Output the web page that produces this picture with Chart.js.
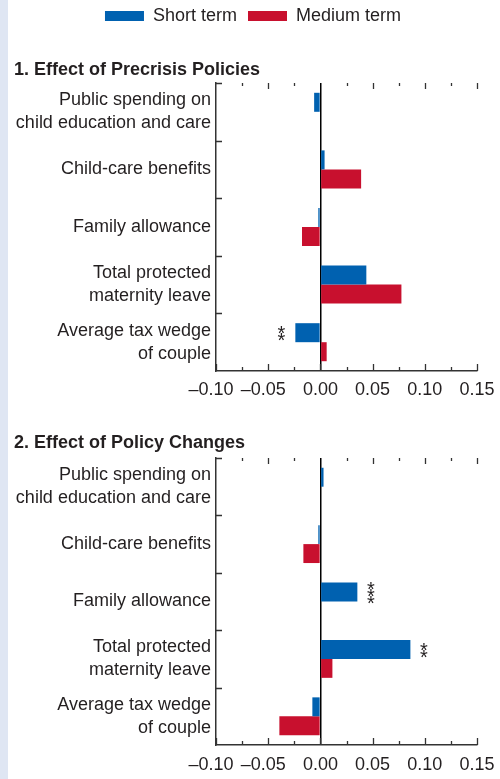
<!DOCTYPE html>
<html>
<head>
<meta charset="utf-8">
<script src="https://cdn.jsdelivr.net/npm/chart.js@4"></script>
<style>
  body { margin: 0; background: #fff; width: 500px; height: 779px; overflow: hidden; position: relative; }
  #strip { position: absolute; left: 0; top: 0; width: 8px; height: 779px; background: #dfe6f3; }
  #c1 { position: absolute; left: 0; top: -4px; }
  #c2 { position: absolute; left: 0; top: 402px; }
</style>
</head>
<body>
<div id="strip"></div>
<canvas id="c1" width="500" height="406"></canvas>
<canvas id="c2" width="500" height="377"></canvas>
<script>
// Data
const categories = [
  ["Public spending on", "child education and care"],
  "Child-care benefits",
  "Family allowance",
  ["Total protected", "maternity leave"],
  ["Average tax wedge", "of couple"]
];
const seriesNames = ["Short term", "Medium term"];

const precrisisShort = [-0.006, 0.004, -0.002, 0.044, -0.024];
const precrisisMedium = [0, 0.039, -0.0176, 0.0776, 0.006];
const precrisisStars = ["", "", "", "", "**"];

const changesShort = [0.003, -0.002, 0.0354, 0.0862, -0.0077];
const changesMedium = [0, -0.0163, 0, 0.0115, -0.0393];
const changesStars = ["", "", "***", "**", ""];

const xMin = -0.10;
const xMax = 0.15;
const xStep = 0.025;

const BLUE = "#0061b0";
const RED = "#c8102e";
const INK = "#231f20";
const AXIS = "#333333";
const FONT = "'Liberation Sans', Arial, sans-serif";

Chart.defaults.font.family = FONT;
Chart.defaults.color = INK;

function isMajor(v) {
  return Math.abs(Math.round(v * 1000)) % 50 === 0;
}

// negative labels keep the number centred on the tick, minus hangs left
function fmt(v) {
  const s = Math.abs(v).toFixed(2);
  return v < -1e-9 ? "\u2013" + s + "\u2007" : s;
}

// tick marks pointing inside the frame, like the original
const inwardTicks = {
  id: "inwardTicks",
  afterDatasetsDraw(chart) {
    const { ctx, chartArea: a, scales: { x, y } } = chart;
    ctx.save();
    ctx.strokeStyle = AXIS;
    ctx.lineWidth = 1.3;
    ctx.beginPath();
    x.ticks.forEach((t) => {
      const px = Math.round(x.getPixelForValue(t.value)) + 0.5;
      const major = isMajor(t.value);
      ctx.moveTo(px, a.bottom);
      ctx.lineTo(px, a.bottom - (major ? 7 : 4));
      if (t.value > xMin + 1e-9 && Math.abs(t.value) > 1e-9) {
        ctx.moveTo(px, a.top);
        ctx.lineTo(px, a.top + (major ? 6 : 3));
      }
    });
    const band = (a.bottom - a.top) / categories.length;
    for (let i = 0; i < categories.length; i++) {
      const py = Math.round(y.getPixelForValue(i) - band / 2) + 0.5;
      ctx.moveTo(a.left, py);
      ctx.lineTo(a.left + 6, py);
    }
    ctx.stroke();
    ctx.restore();
  }
};

// significance stars stacked next to the short-term bars
const starLabels = {
  id: "starLabels",
  afterDatasetsDraw(chart, args, opts) {
    const meta = chart.getDatasetMeta(0);
    const { ctx } = chart;
    ctx.save();
    ctx.fillStyle = INK;
    ctx.font = "20px " + FONT;
    ctx.textAlign = "center";
    ctx.textBaseline = "alphabetic";
    opts.stars.forEach((s, i) => {
      if (!s) return;
      const el = meta.data[i];
      const v = chart.data.datasets[0].data[i];
      const sx = el.x + (v < 0 ? -14 : 13.5);
      const gap = 7.3;
      const first = el.y - (gap * (s.length - 1)) / 2;
      for (let k = 0; k < s.length; k++) {
        ctx.fillText("*", sx, first + k * gap + 11);
      }
    });
    ctx.restore();
  }
};

function makeChart(id, short, medium, stars, title, withLegend, layout) {
  return new Chart(document.getElementById(id), {
    type: "bar",
    data: {
      labels: categories,
      datasets: [
        { label: seriesNames[0], data: short, backgroundColor: BLUE },
        { label: seriesNames[1], data: medium, backgroundColor: RED }
      ]
    },
    options: {
      indexAxis: "y",
      responsive: false,
      animation: false,
      categoryPercentage: 0.66,
      barPercentage: 1,
      layout: { padding: { left: 14, right: 8, top: 0, bottom: 0 } },
      scales: {
        x: {
          min: xMin,
          max: xMax,
          ticks: {
            stepSize: xStep,
            autoSkip: false,
            maxRotation: 0,
            padding: layout.xPad,
            font: { size: 18 },
            color: INK,
            callback: (v) => (isMajor(v) ? fmt(v) : "")
          },
          grid: {
            drawTicks: false,
            lineWidth: 1.5,
            color: (c) => (c.tick && Math.abs(c.tick.value) < 1e-9 ? "#000" : "rgba(0,0,0,0)")
          },
          border: { display: true, color: AXIS, width: 1.5 },
          afterFit: (s) => {
            s.height = layout.xHeight;
            s.paddingRight = 23;
          }
        },
        y: {
          ticks: {
            padding: 5,
            font: { size: 18, lineHeight: 1.28 },
            color: INK
          },
          grid: { display: false, drawTicks: false },
          border: { display: true, color: AXIS, width: 1.5 },
          afterFit: (s) => {
            s.width = 202;
          }
        }
      },
      plugins: {
        legend: {
          display: withLegend,
          position: "top",
          weight: 3000,
          labels: {
            boxWidth: 39,
            boxHeight: 10,
            padding: 11,
            font: { size: 18 },
            color: INK
          }
        },
        title: {
          display: true,
          text: title,
          align: "start",
          color: INK,
          font: { size: 18, weight: "bold", lineHeight: 1.2 },
          padding: { top: layout.titleTop, bottom: layout.titleBottom }
        },
        tooltip: { enabled: false },
        starLabels: { stars: stars }
      }
    },
    plugins: [inwardTicks, starLabels]
  });
}

makeChart("c1", precrisisShort, precrisisMedium, precrisisStars,
  "1. Effect of Precrisis Policies", true,
  { xHeight: 31, xPad: 8, titleTop: 24, titleBottom: 2.4 });

makeChart("c2", changesShort, changesMedium, changesStars,
  "2. Effect of Policy Changes", false,
  { xHeight: 34, xPad: 9, titleTop: 30, titleBottom: 4.4 });
</script>
</body>
</html>
